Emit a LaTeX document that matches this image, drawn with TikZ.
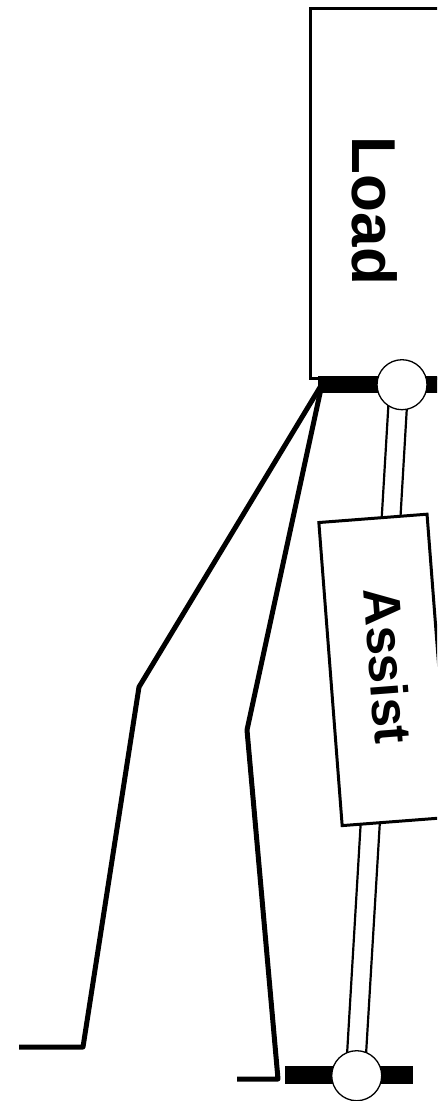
\documentclass[tikz,border=0pt]{standalone}
\usepackage{fontspec}
\setmainfont{Liberation Sans}
\tikzset{
  boxshape/.style={draw=black,fill=white,line width=3pt,inner sep=0pt,outer sep=0pt},
  bar/.style={fill=black,draw=none,inner sep=0pt,outer sep=0pt},
  joint/.style={circle,draw=black,fill=white,line width=1.3pt,minimum size=50pt,inner sep=0pt,outer sep=0pt},
  rail/.style={draw=black,line width=2.2pt},
  leg/.style={draw=black,line width=5pt,line join=round,line cap=butt},
  lbl/.style={inner sep=0pt,font=\bfseries}
}
\begin{document}
\begin{tikzpicture}[x=1pt,y=-1pt]
\useasboundingbox (0,0) rectangle (437,1101);
\clip (0,0) rectangle (437,1101);
% load box
\node[boxshape,minimum width=135pt,minimum height=370pt] (load) at (377.5,193) {};
\node[lbl,rotate=-90,font=\bfseries\fontsize{62}{62}\selectfont] (loadtext) at (375,211) {Load};
% top bar and bottom bar
\node[bar,minimum width=125pt,minimum height=17.5pt] (topbar) at (380.5,384.7) {};
\node[bar,minimum width=128.5pt,minimum height=17.5pt] (botbar) at (349,1075) {};
% legs
\coordinate (hub) at (322,384);
\coordinate (la) at (139,687);
\coordinate (lb) at (83,1047);
\coordinate (lc) at (19,1047);
\coordinate (ra) at (247,730);
\coordinate (rb) at (278,1079);
\coordinate (rc) at (237,1079);
\draw[leg] (hub) -- (la) -- (lb) -- (lc);
\draw[leg] (hub) -- (ra) -- (rb) -- (rc);
% rails
\coordinate (t1) at (388.7,400);
\coordinate (t2) at (407.3,400);
\coordinate (a1) at (381.7,518);
\coordinate (a2) at (400.3,520);
\coordinate (b1) at (361,818);
\coordinate (b2) at (380,820);
\coordinate (c1) at (346.7,1060);
\coordinate (c2) at (365.7,1060);
\draw[rail] (t1) -- (a1);
\draw[rail] (t2) -- (a2);
\draw[rail] (b1) -- (c1);
\draw[rail] (b2) -- (c2);
% assist box
\node[boxshape,rotate=-85.6,minimum width=304pt,minimum height=108.5pt] (assist) at (384.6,669.9) {};
\node[lbl,rotate=-85.6,font=\bfseries\fontsize{52}{52}\selectfont] (assisttext) at (388,666) {Assist};
% joints
\node[joint] (topjoint) at (402,384.7) {};
\node[joint] (botjoint) at (356.7,1075.7) {};
\end{tikzpicture}
\end{document}
